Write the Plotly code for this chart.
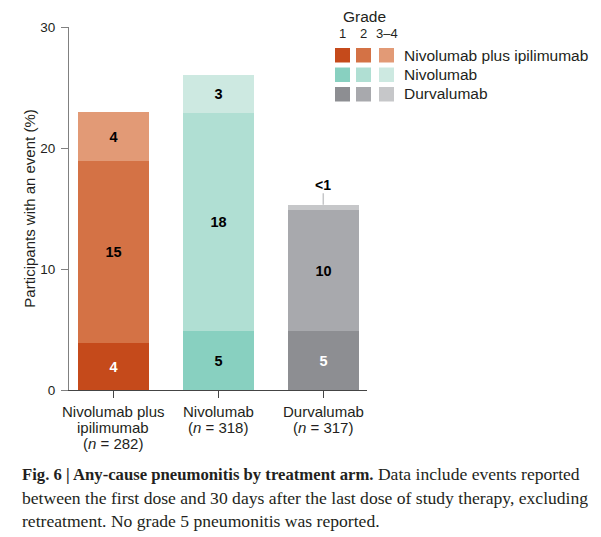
import plotly.graph_objects as go

# ---- data ----
categories = ["Nivolumab plus ipilimumab", "Nivolumab", "Durvalumab"]
cat_label_lines = [
    ["Nivolumab plus", "ipilimumab", "(<i>n</i> = 282)"],
    ["Nivolumab", "(<i>n</i> = 318)"],
    ["Durvalumab", "(<i>n</i> = 317)"],
]
grades = ["1", "2", "3\u20134"]
grade1 = [3.9, 4.9, 4.9]
grade2 = [15.0, 18.0, 10.0]
grade34 = [4.1, 3.1, 0.4]
grade1_text = ["4", "5", "5"]
grade2_text = ["15", "18", "10"]
grade34_text = ["4", "3", ""]
small_label = "<1"

colors = {
    "Nivolumab plus ipilimumab": ["#C54A1B", "#D47245", "#E29A76"],
    "Nivolumab": ["#88D0C0", "#B0DFD3", "#CDE9E1"],
    "Durvalumab": ["#8D8E92", "#A8A9AD", "#C6C7C9"],
}
text_colors_g1 = ["white", "black", "white"]

# ---- layout geometry (pixels) ----
W, H = 601, 537
L, R, T, B = 69, 234, 27, 147
PW, PH = W - L - R, H - T - B


def px2x(px):
    return (px - L) / PW


def py2y(py):
    return (H - B - py) / PH


FONT = "Liberation Sans"
fig = go.Figure()

series = [grade1, grade2, grade34]
texts = [grade1_text, grade2_text, grade34_text]
tcolors = [text_colors_g1, ["black"] * 3, ["black"] * 3]
for gi in range(3):
    fig.add_trace(go.Bar(
        x=categories,
        y=series[gi],
        name=grades[gi],
        width=0.676,
        marker=dict(color=[colors[c][gi] for c in categories], line=dict(width=0)),
        text=texts[gi],
        textposition="inside",
        insidetextanchor="middle",
        textangle=0,
        constraintext="none",
        textfont=dict(family=FONT, size=14.5, color=tcolors[gi], weight="bold"),
        showlegend=False,
        hoverinfo="skip",
    ))

# "<1" label with connector
total3 = grade1[2] + grade2[2] + grade34[2]
fig.add_annotation(
    x=categories[2], y=total3, xref="x", yref="y",
    text="<b>%s</b>" % small_label.replace("<", "&lt;"),
    showarrow=True, arrowhead=0, arrowwidth=1.5, arrowcolor="#C6C7C9",
    ax=0, ay=-20, font=dict(family=FONT, size=14, color="black"),
    borderpad=0,
)

# category labels, line by line
line_y = [411.7, 427.7, 443.5]
for c, lines in zip(categories, cat_label_lines):
    for li, t in enumerate(lines):
        fig.add_annotation(
            x=c, y=0, xref="x", yref="paper", text=t, showarrow=False,
            xanchor="center", yanchor="middle",
            yshift=-(line_y[li] - (H - B)),
            font=dict(family=FONT, size=15, color="#231F20"),
        )

# ---- custom legend ----
fig.add_annotation(x=px2x(364), y=py2y(16), xref="paper", yref="paper",
                   text="Grade", showarrow=False, xanchor="center", yanchor="middle",
                   font=dict(family=FONT, size=15.5, color="#231F20"))
sw_x = [335, 356, 379]
for gi, g in enumerate(grades):
    fig.add_annotation(x=px2x(sw_x[gi] + 7.5), y=py2y(34), xref="paper", yref="paper",
                       text=g, showarrow=False, xanchor="center", yanchor="middle",
                       font=dict(family=FONT, size=13, color="#231F20"))
row_y = [48, 67.5, 87]
for ri, c in enumerate(categories):
    for gi in range(3):
        fig.add_shape(type="rect", xref="paper", yref="paper",
                      x0=px2x(sw_x[gi]), x1=px2x(sw_x[gi] + 15),
                      y0=py2y(row_y[ri] + 14.5), y1=py2y(row_y[ri]),
                      fillcolor=colors[c][gi], line=dict(width=0))
    fig.add_annotation(x=px2x(402), y=py2y(row_y[ri] + 7), xref="paper", yref="paper",
                       text=c, showarrow=False, xanchor="left", yanchor="middle",
                       font=dict(family=FONT, size=15.5, color="#231F20"))

# ---- caption ----
caption_lines = [
    "<b><span style='font-size:16.7px'>Fig. 6 | Any-cause pneumonitis by treatment arm.</span></b> Data include events reported",
    "between the first dose and 30 days after the last dose of study therapy, excluding",
    "retreatment. No grade 5 pneumonitis was reported.",
]
cap_y = [474, 497.5, 521]
for t, yy in zip(caption_lines, cap_y):
    fig.add_annotation(x=px2x(20), y=py2y(yy), xref="paper", yref="paper",
                       text=t, showarrow=False, xanchor="left", yanchor="middle",
                       font=dict(family="Liberation Serif", size=17.6, color="#231F20"))

fig.update_layout(
    width=W, height=H,
    margin=dict(l=L, r=R, t=T, b=B),
    barmode="stack",
    bargap=0,
    plot_bgcolor="white", paper_bgcolor="white",
    showlegend=False,
)
fig.update_xaxes(
    type="category", range=[-0.419, 2.416],
    showgrid=False, zeroline=False,
    showline=True, linecolor="#444444", linewidth=1,
    ticks="outside", ticklen=7, tickcolor="#444444", tickwidth=1,
    showticklabels=False,
)
fig.update_yaxes(
    range=[0, 30], tickvals=[0, 10, 20, 30],
    showgrid=False, zeroline=False,
    showline=True, linecolor="#808080", linewidth=1,
    ticks="outside", ticklen=7, tickcolor="#808080", tickwidth=1,
    tickfont=dict(family=FONT, size=13.5, color="#231F20"),
    ticklabelstandoff=3,
    title=dict(text="Participants with an event (%)", standoff=1,
               font=dict(family=FONT, size=15, color="#231F20")),
)

fig.write_html("out.html")
